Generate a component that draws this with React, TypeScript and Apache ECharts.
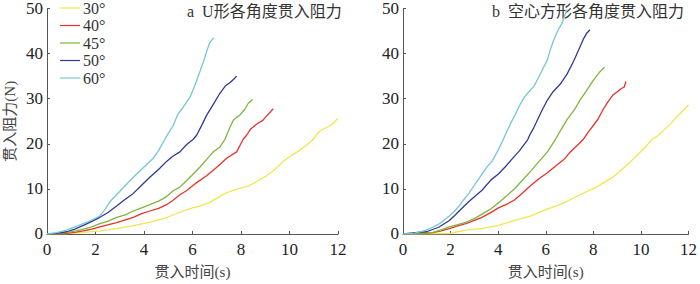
import React, { useEffect, useRef } from "react";
import * as echarts from "echarts";

const seriesNames = ["30°", "40°", "45°", "50°", "60°"];
const seriesColors = ["#f2e64e", "#e8332a", "#7cb73c", "#2e3b8e", "#76c6d6"];
const xTicks = [0, 2, 4, 6, 8, 10, 12];
const yTicks = [0, 10, 20, 30, 40, 50];

const u30 = [[0,0],[0.8,0.1],[1.5,0.35],[2.2,0.7],[2.87,1.2],[3.5,1.8],[4.24,2.6],[4.9,3.6],[5.62,5.1],[6.0,5.8],[6.3,6.2],[6.7,7.0],[7.0,7.9],[7.3,8.9],[7.68,9.7],[8.0,10.2],[8.37,10.8],[8.7,11.8],[9.05,12.9],[9.4,14.3],[9.74,16.1],[10.1,17.5],[10.43,18.6],[10.75,19.9],[10.98,21],[11.2,22.6],[11.3,23.0],[11.67,24.0],[11.85,24.8],[11.99,25.6]];
const u40 = [[0,0],[0.4,0.05],[0.81,0.14],[1.2,0.4],[1.5,0.7],[1.85,1.1],[2.18,1.6],[2.5,2.0],[2.87,2.5],[3.2,3.1],[3.56,3.7],[3.9,4.5],[4.24,5.1],[4.6,5.7],[4.93,6.5],[5.2,7.5],[5.48,8.7],[5.75,9.6],[6.03,10.8],[6.2,11.5],[6.58,12.9],[7.0,14.8],[7.41,16.8],[7.82,18.2],[8.09,21],[8.23,21.9],[8.4,23.3],[8.65,24.4],[8.9,25.2],[9.06,26.2],[9.2,27.0],[9.33,27.8]];
const u45 = [[0,0],[0.4,0.1],[0.81,0.3],[1.2,0.7],[1.5,1.1],[1.85,1.6],[2.18,2.3],[2.5,2.8],[2.87,3.7],[3.2,4.2],[3.56,5.1],[3.9,5.8],[4.24,6.5],[4.6,7.3],[4.93,8.3],[5.2,9.6],[5.48,10.4],[5.75,11.8],[6.03,13.3],[6.3,14.8],[6.58,16.5],[6.85,18.2],[7.13,19.3],[7.34,21],[7.45,22.5],[7.68,25.2],[7.8,25.8],[7.96,26.4],[8.15,27.6],[8.3,29.0],[8.48,29.8]];
const u50 = [[0,0],[0.4,0.15],[0.81,0.5],[1.15,1.1],[1.5,1.9],[1.85,2.8],[2.18,3.7],[2.5,4.7],[2.87,6.2],[3.2,7.6],[3.56,9.0],[3.9,10.8],[4.24,12.6],[4.6,14.3],[4.93,16.1],[5.2,17.3],[5.48,18.2],[5.75,19.8],[6.03,21],[6.17,21.9],[6.4,24.3],[6.58,26.3],[6.85,28.7],[7.13,31.2],[7.35,32.8],[7.55,33.6],[7.7,34.3],[7.82,35.0]];
const u60 = [[0,0],[0.4,0.3],[0.81,0.85],[1.15,1.6],[1.5,2.3],[1.85,3.1],[2.18,4.0],[2.4,5.5],[2.6,7.2],[2.87,8.7],[3.2,10.6],[3.56,12.6],[3.97,14.7],[4.38,16.8],[4.6,18.5],[4.86,21],[5.0,22.3],[5.2,24],[5.4,26.6],[5.55,27.6],[5.75,29.2],[5.9,30.4],[6.1,33.0],[6.31,36.1],[6.45,38.2],[6.58,40.4],[6.7,42.3],[6.87,43.5]];

const s30 = [[0,0],[1.0,0.05],[1.95,0.1],[2.3,0.5],[2.64,0.85],[3.32,1.2],[4.01,1.9],[4.7,3.0],[5.38,4.0],[6.07,5.5],[6.76,6.9],[7.44,8.7],[8.13,10.4],[8.82,12.6],[9.5,15.7],[10.19,19.3],[10.47,21],[10.74,21.9],[11.0,23.2],[11.29,24.7],[11.6,26.5],[12.0,28.6]];
const s40 = [[0,0],[0.6,0.1],[1.26,0.3],[1.6,0.7],[1.95,1.2],[2.3,1.8],[2.64,2.3],[3.0,3.0],[3.32,3.7],[3.7,4.8],[4.01,5.8],[4.4,6.7],[4.7,7.6],[5.0,9.0],[5.38,10.8],[5.7,12.2],[6.07,13.6],[6.4,15.0],[6.76,16.5],[7.0,18.0],[7.17,18.9],[7.4,20.0],[7.58,21],[7.8,22.7],[7.99,24],[8.2,25.5],[8.41,27.6],[8.6,29.2],[8.82,30.8],[9.0,31.5],[9.16,32.2],[9.3,32.6],[9.37,33.8]];
const s45 = [[0,0],[0.6,0.1],[1.26,0.35],[1.6,0.9],[1.95,1.6],[2.3,2.1],[2.64,2.6],[3.0,3.4],[3.32,4.4],[3.7,5.6],[4.01,6.9],[4.35,8.4],[4.7,10.1],[5.0,11.8],[5.38,14.0],[5.7,16.0],[6.07,18.2],[6.41,21],[6.65,23.2],[6.9,25.4],[7.2,27.5],[7.44,29.7],[7.7,31.7],[7.99,34],[8.25,35.8],[8.47,37.0]];
const s50 = [[0,0],[0.5,0.3],[0.99,0.5],[1.5,1.5],[1.95,3.0],[2.15,4.0],[2.36,5.1],[2.77,7.2],[3.32,9.7],[3.7,12.0],[4.01,13.3],[4.3,14.9],[4.56,16.5],[4.9,18.5],[5.25,21],[5.32,21.9],[5.5,23.6],[5.66,25.4],[5.85,27.5],[6.07,29.7],[6.3,31.5],[6.62,33.3],[6.9,35.5],[7.17,38.3],[7.4,41.0],[7.58,43.2],[7.72,44.5],[7.86,45.3]];
const s60 = [[0,0],[0.5,0.2],[0.99,0.85],[1.25,1.5],[1.54,2.3],[1.75,3.2],[1.95,4.0],[2.15,5.0],[2.36,6.2],[2.55,7.6],[2.77,9.0],[3.05,11.2],[3.32,13.3],[3.55,15.0],[3.74,16.1],[4.0,18.6],[4.22,21],[4.29,21.9],[4.5,24.3],[4.7,26.3],[4.9,28.5],[5.11,30.4],[5.3,31.6],[5.52,32.9],[5.8,35.8],[6.07,38.6],[6.2,41],[6.35,43.2],[6.5,45.0],[6.69,46.8],[6.8,48.5],[6.9,49.8]];

const leftData = [u30, u40, u45, u50, u60];
const rightData = [s30, s40, s45, s50, s60];
const titleA = "a  U形各角度贯入阻力";
const titleB = "b  空心方形各角度贯入阻力";
const xName = "贯入时间(s)";
const yName = "贯入阻力(N)";

const FONT = "Liberation Serif, Noto Sans CJK SC, serif";

export default function App() {
  const ref = useRef<HTMLDivElement>(null);
  useEffect(() => {
    document.body.style.margin = "0";
    const chart = echarts.init(ref.current!, undefined, { renderer: "svg" });
    const axisLine = { lineStyle: { color: "#555", width: 1 } };
    const mkX = (gi: number) => ({
      type: "value", gridIndex: gi, min: 0, max: 12, interval: 2,
      axisLine: { ...axisLine, onZero: false },
      axisTick: { inside: true, length: 3, lineStyle: { color: "#555" } },
      splitLine: { show: false },
      axisLabel: { fontSize: 17, fontFamily: FONT, color: "#222", margin: 7,
        formatter: (v: number) => (xTicks.includes(v) ? String(v) : "") },
      name: xName, nameLocation: "middle", nameGap: 30,
      nameTextStyle: { fontSize: 15, fontFamily: FONT, color: "#444" },
    });
    const mkY = (gi: number, named: boolean) => ({
      type: "value", gridIndex: gi, min: 0, max: 50, interval: 10,
      axisLine: { ...axisLine, show: true, onZero: false },
      axisTick: { show: true, inside: true, length: 3, lineStyle: { color: "#555" } },
      splitLine: { show: false },
      axisLabel: { fontSize: 17, fontFamily: FONT, color: "#222", margin: 4,
        formatter: (v: number) => (yTicks.includes(v) ? String(v) : "") },
      name: named ? yName : "", nameLocation: "middle", nameGap: 30,
      nameTextStyle: { fontSize: 15, fontFamily: FONT, color: "#444" },
    });
    const series: any[] = [];
    [leftData, rightData].forEach((set, gi) => {
      set.forEach((d, i) => {
        series.push({
          type: "line", name: seriesNames[i], xAxisIndex: gi, yAxisIndex: gi,
          data: d, symbol: "none", smooth: false,
          lineStyle: { color: seriesColors[i], width: 1.3 },
          itemStyle: { color: seriesColors[i] },
        });
      });
    });
    chart.setOption({
      animation: false,
      backgroundColor: "#fff",
      grid: [
        { left: 47, right: 362, top: 5, bottom: 45 },
        { left: 403, right: 6, top: 5, bottom: 45 },
      ],
      xAxis: [mkX(0), mkX(1)],
      yAxis: [mkY(0, true), mkY(1, false)],
      legend: {
        data: seriesNames, orient: "vertical", left: 60, top: 0, padding: 0,
        itemWidth: 20, itemHeight: 10, itemGap: 1.5,
        textStyle: { fontSize: 16, fontFamily: FONT, color: "#333", padding: [0, 0, 0, -2] },
        icon: "path://M0,0 L20,0 L20,1.2 L0,1.2 Z",
      },
      graphic: [
        { type: "text", left: 187, top: 3, style: { text: titleA, fontSize: 16, fontFamily: FONT, fill: "#333" } },
        { type: "text", left: 492, top: 3, style: { text: titleB, fontSize: 16, fontFamily: FONT, fill: "#333" } },
      ],
      series,
    });
    return () => chart.dispose();
  }, []);
  return <div ref={ref} style={{ width: 700, height: 284 }} />;
}
